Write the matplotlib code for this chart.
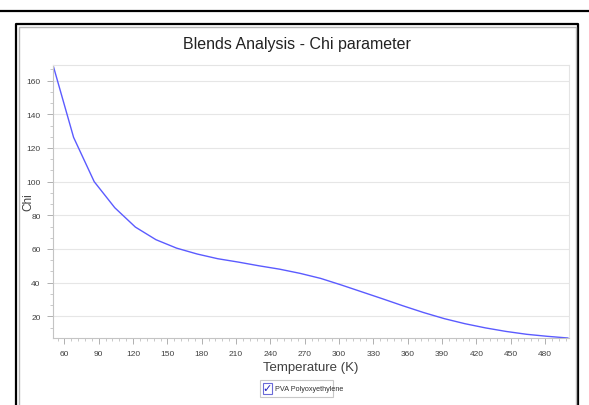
import matplotlib
matplotlib.use("Agg")
import matplotlib.pyplot as plt
from matplotlib.ticker import MultipleLocator, AutoMinorLocator
from matplotlib.patches import Rectangle
from matplotlib.lines import Line2D

# Chi parameter vs temperature for the PVA / polyoxyethylene blend
temperature = [50, 68, 86, 104, 122, 140, 158, 176, 194, 212, 230, 248, 266,
               284, 302, 320, 338, 356, 374, 392, 410, 428, 446, 464, 482, 500]
chi = [169.3, 126.3, 100.0, 84.5, 73.0, 65.5, 60.5, 57.0, 54.2, 52.2, 50.0,
       48.0, 45.5, 42.5, 38.6, 34.5, 30.4, 26.2, 22.2, 18.6, 15.6, 13.1,
       11.0, 9.3, 8.1, 7.1]
series_name = "PVA Polyoxyethylene"

W, H = 589, 406
plt.rcParams['font.family'] = ['Liberation Sans Narrow', 'Liberation Sans', 'DejaVu Sans']

fig = plt.figure(figsize=(W / 100, H / 100), dpi=100, facecolor='white')


def fx(px):
    return px / W


def fy(py):
    return 1 - py / H


# window chrome around the chart
fig.add_artist(Line2D([0, 1], [fy(12), fy(12)], color='black', lw=1.6,
                      transform=fig.transFigure))
for xs, ys, c, lw in [
    ([fx(16), fx(16), fx(578), fx(578)], [fy(406), fy(25), fy(25), fy(406)], 'black', 1.6),
    ([fx(18.5), fx(18.5), fx(575.5), fx(575.5)], [fy(406), fy(27.5), fy(27.5), fy(406)], '#b8b8b8', 1.0),
]:
    fig.add_artist(Line2D(xs, ys, color=c, lw=lw, transform=fig.transFigure))

ax_l, ax_r, ax_t, ax_b = 53, 569, 66, 339
ax = fig.add_axes([fx(ax_l), fy(ax_b), fx(ax_r) - fx(ax_l), fy(ax_t) - fy(ax_b)])
ax.plot(temperature, chi, color='#5b5bff', lw=1.0)

ax.set_xlim(50, 501)
ax.set_ylim(min(chi), max(chi))
ax.xaxis.set_major_locator(MultipleLocator(30))
ax.xaxis.set_minor_locator(AutoMinorLocator(5))
ax.yaxis.set_major_locator(MultipleLocator(20))
ax.yaxis.set_minor_locator(AutoMinorLocator(3))
ax.grid(axis='y', which='major', color='#e6e6e6', lw=0.8)
ax.set_axisbelow(True)

for side, sp in ax.spines.items():
    sp.set_linewidth(0.8)
    sp.set_color('#c4c4c4' if side in ('left', 'bottom') else '#e4e4e4')

ax.tick_params(which='major', length=4, width=0.7, color='#b0b0b0',
               labelsize=6, labelcolor='#404040', pad=5)
ax.tick_params(which='minor', length=2, width=0.6, color='#c0c0c0')

ax.set_xlabel("Temperature (K)", fontsize=9.5, color='#404040')
ax.set_ylabel("Chi", fontsize=8.5, color='#404040')
ax.xaxis.set_label_coords(0.5, (ax_b - 368) / (ax_b - ax_t))
ax.yaxis.set_label_coords((28 - ax_l) / (ax_r - ax_l), 0.5)
ax.xaxis.label.set_va('center')
ax.yaxis.label.set_va('center')

fig.text(fx(297), fy(44), "Blends Analysis - Chi parameter", ha='center',
         va='center', fontsize=11.5, color='#222222')

# legend with a checkbox
fig.add_artist(Rectangle((fx(260), fy(398)), fx(333) - fx(260), fy(381) - fy(398),
                         transform=fig.transFigure, facecolor='white',
                         edgecolor='#c8c8c8', lw=0.8))
fig.add_artist(Rectangle((fx(263), fy(394.5)), fx(9), fy(384) - fy(394.5),
                         transform=fig.transFigure, facecolor='white',
                         edgecolor='#6a6ad8', lw=0.8))
fig.text(fx(267.5), fy(389.5), "\u2713", ha='center', va='center', fontsize=8,
         color='#2020c0', family=['DejaVu Sans'], fontweight='bold')
fig.text(fx(275), fy(389.5), series_name, ha='left', va='center',
         fontsize=5.2, color='#303030')

fig.savefig("out.png", dpi=100, facecolor='white')
